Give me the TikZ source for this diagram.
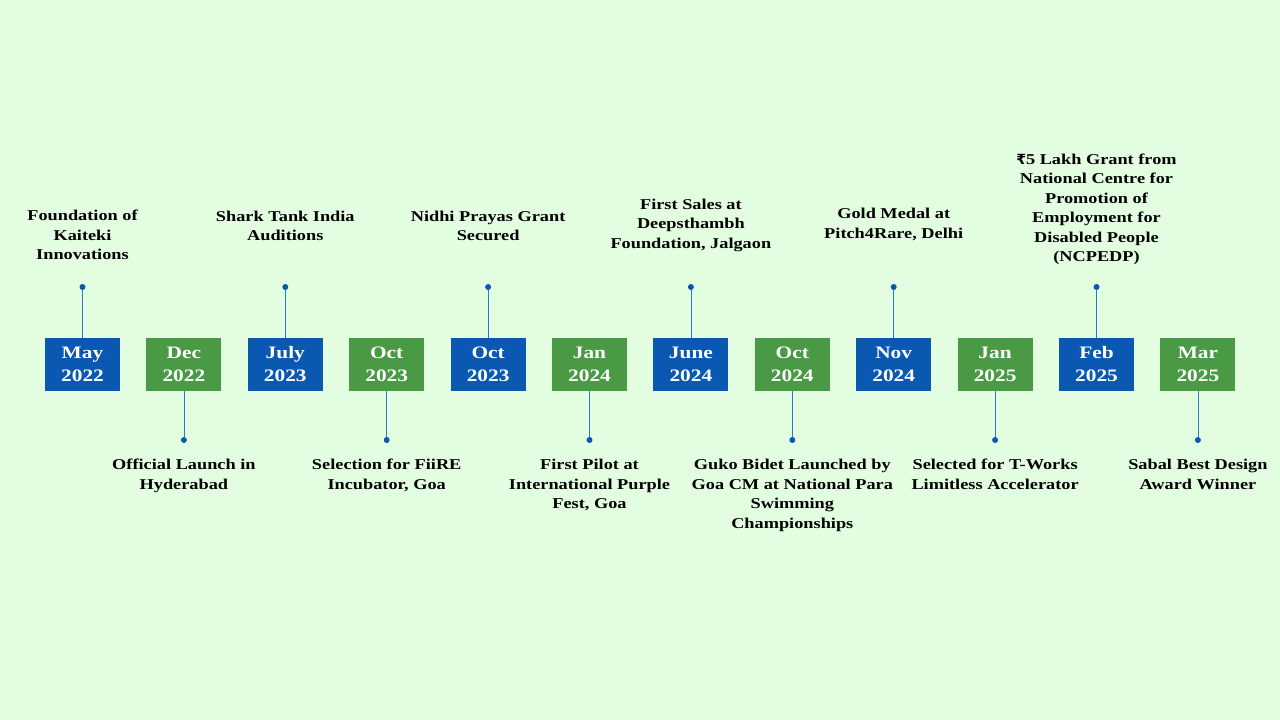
\documentclass[tikz,border=0pt]{standalone}
\usepackage{fontspec}
\setmainfont{Liberation Serif}[FakeStretch=1.22]
\newfontfamily\rup{DejaVu Sans}
\definecolor{bg}{HTML}{E2FDE0}
\definecolor{bbox}{HTML}{0A58B2}
\definecolor{gbox}{HTML}{4A9A45}
\definecolor{ln}{HTML}{2A7AD0}
\begin{document}
\begin{tikzpicture}[x=1pt,y=-1pt,
  yr/.style={minimum width=75pt,minimum height=53pt,inner sep=0pt,text=white,font=\fontsize{17.5}{23}\selectfont\bfseries,align=center},
  bl/.style={yr,fill=bbox}, gr/.style={yr,fill=gbox},
  lab/.style={font=\fontsize{15}{19.5}\selectfont\bfseries,align=center,inner sep=0pt},
  dot/.style={circle,fill=bbox,inner sep=0pt,minimum size=6pt},
  con/.style={draw=ln,line width=0.8pt}]
\fill[bg] (0,0) rectangle (1280,720);
\useasboundingbox (0,0) rectangle (1280,720);
\foreach \i/\m/\y/\ty/\t in {0/May/2022/260/{Foundation of\\Kaiteki\\Innovations},2/July/2023/241/{Shark Tank India\\Auditions},4/Oct/2023/241/{Nidhi Prayas Grant\\Secured},6/June/2024/252/{First Sales at\\Deepsthambh\\Foundation, Jalgaon},8/Nov/2024/241/{Gold Medal at\\Pitch4Rare, Delhi},10/Feb/2025/265/{{\rup\fontsize{14}{19.5}\selectfont ₹}5 Lakh Grant from\\National Centre for\\Promotion of\\Employment for\\Disabled People\\(NCPEDP)}}{
  \pgfmathsetmacro\cx{82.5+101.4*\i}
  \node[bl] (b\i) at (\cx,364.5) {\m\\\y};
  \node[dot] (d\i) at (\cx,287) {};
  \draw[con] (d\i) -- (b\i.north);
  \node[lab,anchor=south] (t\i) at (\cx,\ty) {\t};
}
\foreach \i/\m/\y/\t in {1/Dec/2022/{Official Launch in\\Hyderabad},3/Oct/2023/{Selection for FiiRE\\Incubator, Goa},5/Jan/2024/{First Pilot at\\International Purple\\Fest, Goa},7/Oct/2024/{Guko Bidet Launched by\\Goa CM at National Para\\Swimming\\Championships},9/Jan/2025/{Selected for T-Works\\Limitless Accelerator},11/Mar/2025/{Sabal Best Design\\Award Winner}}{
  \pgfmathsetmacro\cx{82.5+101.4*\i}
  \node[gr] (b\i) at (\cx,364.5) {\m\\\y};
  \node[dot] (d\i) at (\cx,440) {};
  \draw[con] (d\i) -- (b\i.south);
  \node[lab,anchor=north] (t\i) at (\cx,459) {\t};
}
\end{tikzpicture}
\end{document}
